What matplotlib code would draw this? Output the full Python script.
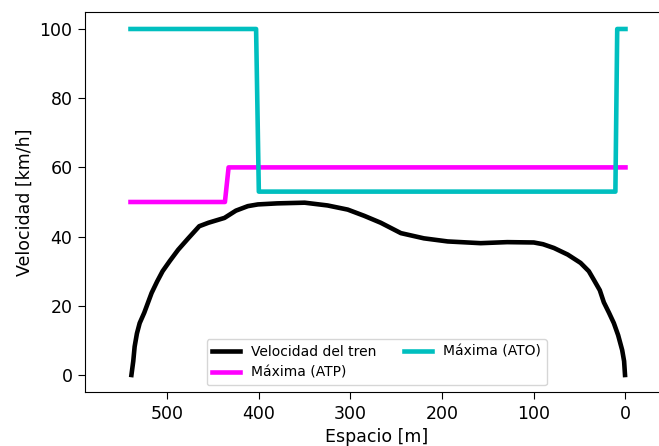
import numpy as np
import matplotlib
matplotlib.use('Agg')
import matplotlib.pyplot as plt

# velocidad del tren (espacio restante [m], velocidad [km/h])
x_tren = [539, 537, 535.5, 533, 530, 525, 517, 511, 505, 497, 488, 477, 465, 455,
          445, 437.5, 425, 412, 401, 380, 350, 325, 303, 285, 267, 245, 220, 194,
          158, 129, 100, 90, 78, 63, 49, 40, 34.5, 28, 23.6, 18, 12.7, 8, 3.6, 1.5, 0.5]
v_tren = [0, 4, 8.2, 12, 15, 18, 23.7, 27, 30, 33, 36.2, 39.5, 43, 44,
          44.8, 45.4, 47.5, 48.8, 49.3, 49.6, 49.8, 49, 47.8, 46, 44, 41, 39.5, 38.6,
          38.1, 38.4, 38.3, 37.8, 36.7, 34.8, 32.4, 30, 27.5, 24.5, 21, 18, 15, 11.5, 7.2, 4, 0]

# limite ATP
x_atp = [540, 437, 433, 0]
v_atp = [50, 50, 60, 60]

# limite ATO
x_ato = [540, 403, 400, 11, 9, 0]
v_ato = [100, 100, 53, 53, 100, 100]

plt.rcParams['font.size'] = 12.5

fig = plt.figure(figsize=(6.59, 4.46), dpi=100)
# el eje derecho queda fuera de la imagen, como en el original recortado
ax = fig.add_axes([0.1285, 0.1204, 0.886, 0.8534])

ax.plot(x_tren, v_tren, color='k', lw=3.3, label='Velocidad del tren')
ax.plot(x_atp, v_atp, color='magenta', lw=3.3, label='Máxima (ATP)')
ax.plot(x_ato, v_ato, color='c', lw=3.3, label='Máxima (ATO)')

ax.set_xlim(590, -47)
ax.set_ylim(-5, 105)
ax.set_xticks([500, 400, 300, 200, 100, 0])
ax.set_yticks([0, 20, 40, 60, 80, 100])
ax.tick_params(length=5.3)
ax.spines['right'].set_visible(False)
ax.set_xlabel('Espacio [m]')
ax.set_ylabel('Velocidad [km/h]')
ax.legend(loc='lower center', ncol=2, fontsize=10)

fig.savefig('out.png', dpi=100)
